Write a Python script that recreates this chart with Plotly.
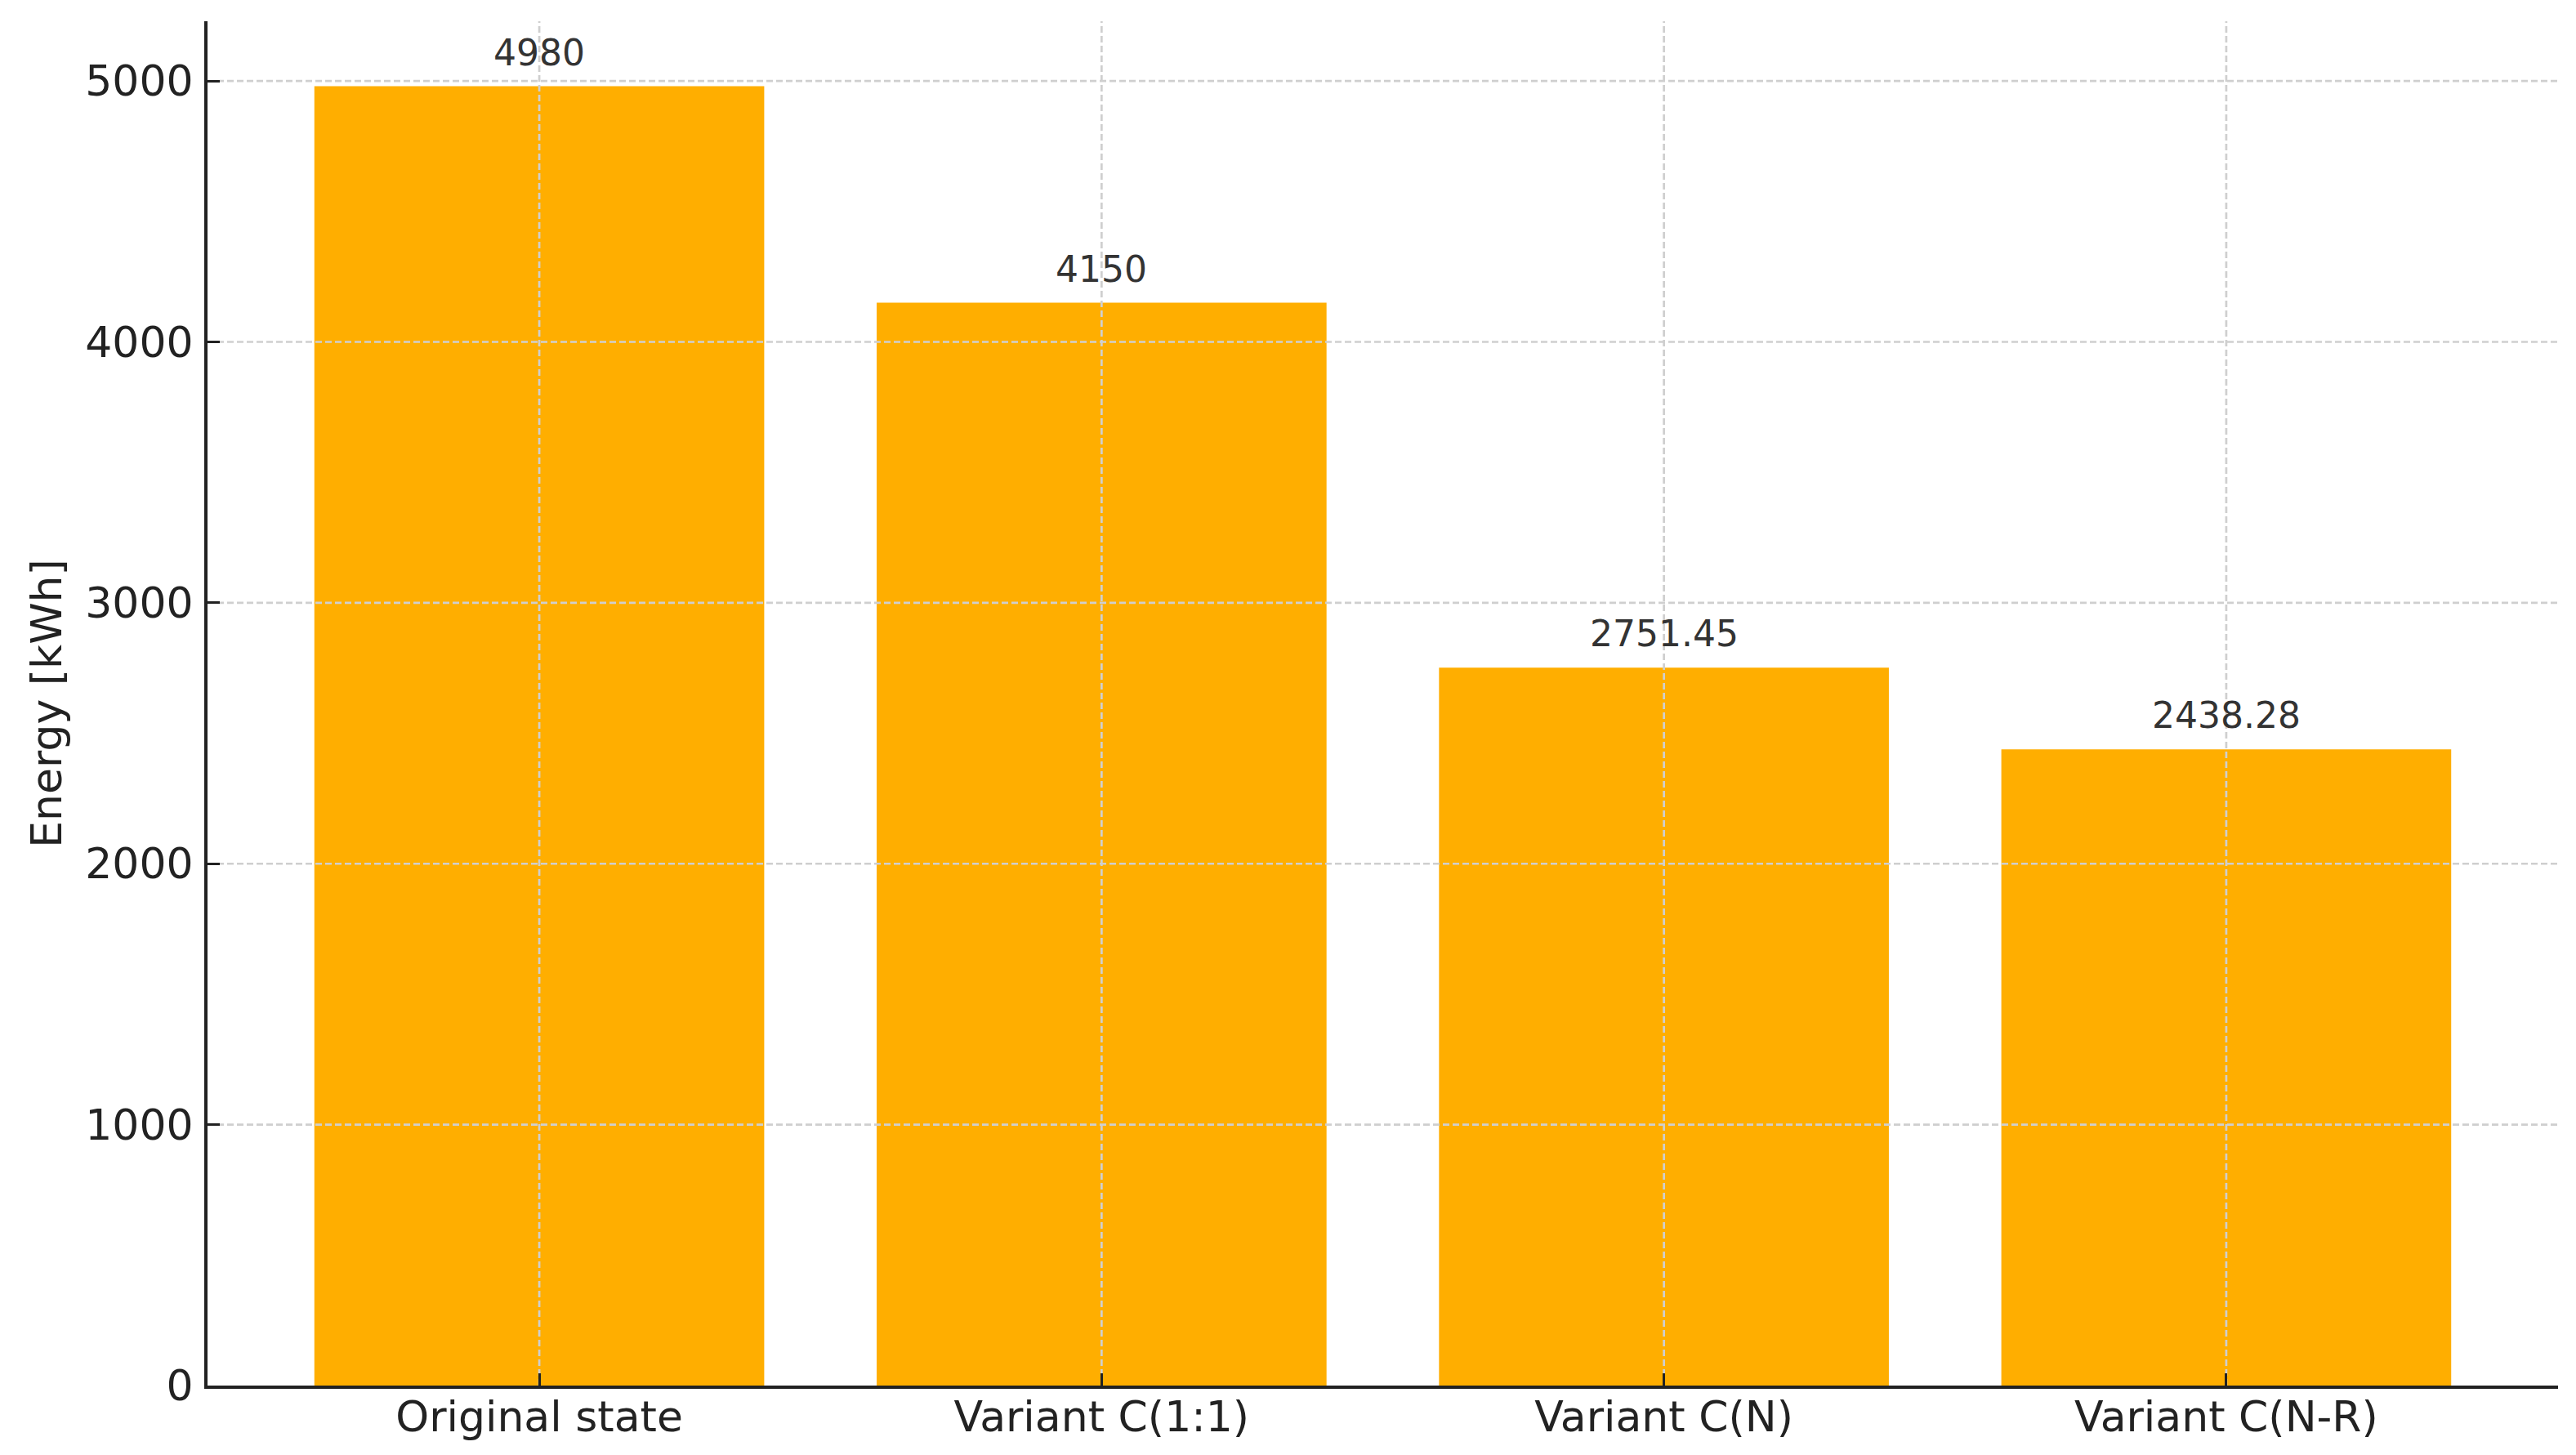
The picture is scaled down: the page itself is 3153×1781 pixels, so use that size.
import plotly.graph_objects as go

categories = ["Original state", "Variant C(1:1)", "Variant C(N)", "Variant C(N-R)"]
values = [4980, 4150, 2751.45, 2438.28]
value_labels = ["4980", "4150", "2751.45", "2438.28"]
y_ticks = [0, 1000, 2000, 3000, 4000, 5000]

BAR_COLOR = "#FFAE00"
GRID_COLOR = "#cfcfcf"
AXIS_COLOR = "#222222"
FONT = "DejaVu Sans"

positions = list(range(len(categories)))
x_range = [-0.59, len(categories) - 1 + 0.59]
y_range = [0, 5229]

fig = go.Figure()
fig.add_trace(go.Bar(
    x=positions, y=values, marker=dict(color=BAR_COLOR, line=dict(width=0)),
    width=0.8, hoverinfo="skip",
))

# dashed grid drawn above bars (as in reference), below axis ticks
grid_line = dict(color=GRID_COLOR, width=2.7, dash="8px,4px")
for yt in y_ticks[1:]:
    fig.add_trace(go.Scatter(x=x_range, y=[yt, yt], mode="lines", line=grid_line,
                             hoverinfo="skip", cliponaxis=False))
for p in positions:
    fig.add_trace(go.Scatter(x=[p, p], y=y_range, mode="lines", line=grid_line,
                             hoverinfo="skip", cliponaxis=False))

# value annotations above bars
for p, v, t in zip(positions, values, value_labels):
    fig.add_annotation(x=p, y=v, text=t, showarrow=False, yanchor="bottom",
                       yshift=14, font=dict(family=FONT, size=44, color="#333333"))

fig.update_layout(
    width=3153, height=1781,
    margin=dict(l=246, r=30, t=18, b=93),
    paper_bgcolor="white", plot_bgcolor="white",
    showlegend=False,
    font=dict(family=FONT, size=52, color=AXIS_COLOR),
)
fig.update_xaxes(
    range=x_range, tickvals=positions, ticktext=categories,
    showgrid=False, zeroline=False, automargin=False,
    showline=True, linecolor=AXIS_COLOR, linewidth=4,
    ticks="inside", ticklen=15, tickwidth=3.3, tickcolor=AXIS_COLOR,
    tickfont=dict(family=FONT, size=52, color=AXIS_COLOR),
    ticklabelstandoff=-10,
    layer="above traces",
)
fig.update_yaxes(
    range=y_range, tickvals=y_ticks, ticktext=[str(t) for t in y_ticks],
    showgrid=False, zeroline=False, automargin=False,
    showline=True, linecolor=AXIS_COLOR, linewidth=4,
    ticks="inside", ticklen=15, tickwidth=3.3, tickcolor=AXIS_COLOR,
    tickfont=dict(family=FONT, size=52, color=AXIS_COLOR),
    ticklabelstandoff=3,
    title=dict(text="Energy [kWh]", font=dict(family=FONT, size=52, color=AXIS_COLOR), standoff=13),
    layer="above traces",
)

fig.write_html("out.html")
